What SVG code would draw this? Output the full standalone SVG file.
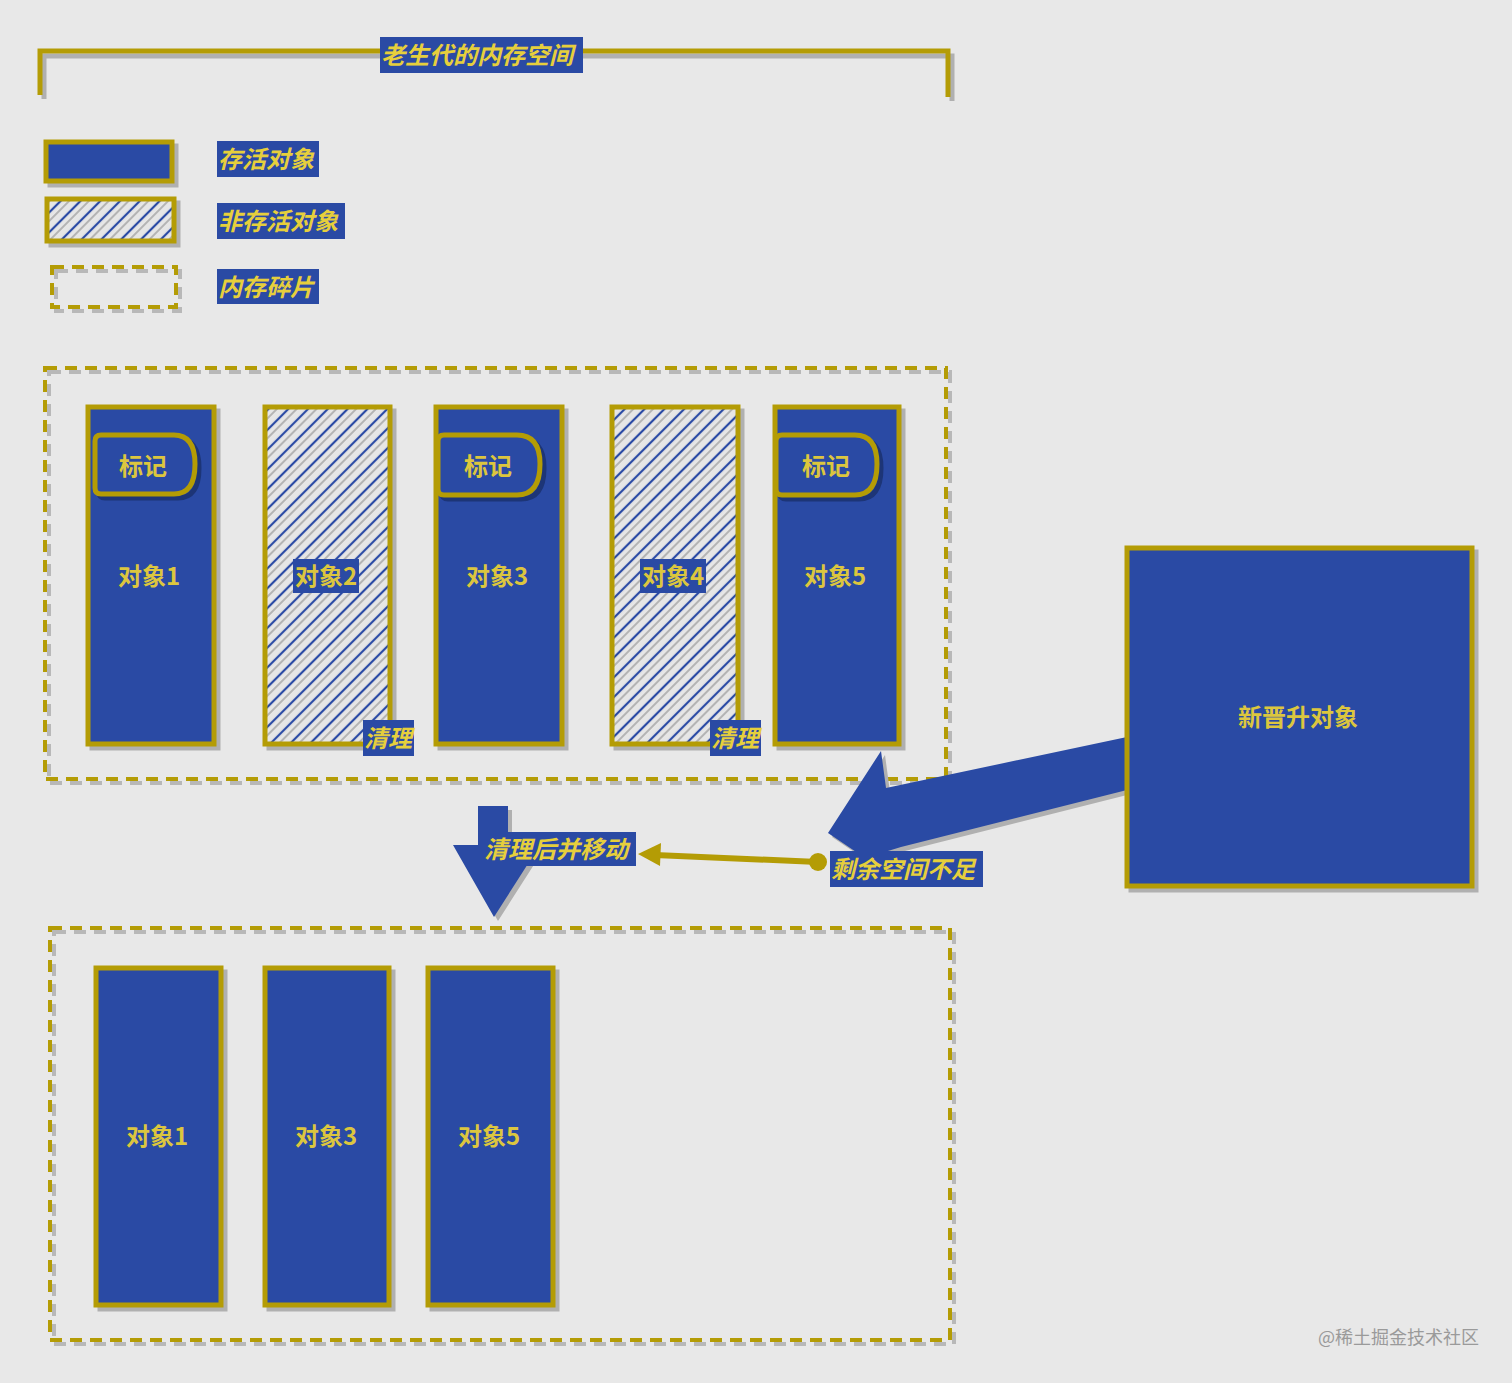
<svg xmlns="http://www.w3.org/2000/svg" width="1512" height="1383" viewBox="0 0 1512 1383">
<defs>
<style>
.bg{fill:#e8e8e8}
.obj{fill:#2a4aa4;stroke:#b49c05;stroke-width:5}
.sh{fill:none;stroke:#b0b0b0;stroke-width:5}
.shf{fill:#b0b0b0}
.hatch{fill:url(#hp);stroke:#b49c05;stroke-width:5}
.dash{fill:none;stroke:#b49c05;stroke-width:4;stroke-dasharray:12 8}
.dashsh{fill:none;stroke:#b8b8b8;stroke-width:4;stroke-dasharray:12 8}
.lblbg{fill:#2a4aa4}
.lbl{font-family:"Noto Sans CJK SC","Noto Sans",sans-serif;font-weight:bold;font-style:italic;font-size:24px;fill:#e6cf3c}
.t{font-family:"Noto Sans CJK SC","Noto Sans",sans-serif;font-weight:bold;font-size:24px;fill:#dcc63e;text-anchor:middle}
.tag{fill:#2a4aa4;stroke:#b49c05;stroke-width:5}
.tagsh{fill:none;stroke:#1d3577;stroke-width:5}
.wm{font-family:"Noto Sans CJK SC",sans-serif;font-size:18px;fill:#9a9a9a}
</style>
<pattern id="hp" patternUnits="userSpaceOnUse" width="14" height="14" patternTransform="rotate(45)">
<rect width="14" height="14" fill="#e6e6e6"/>
<line x1="3" y1="0" x2="3" y2="14" stroke="#2a4aa4" stroke-width="2.2"/>
<line x1="9" y1="0" x2="9" y2="14" stroke="#b4b4b4" stroke-width="2"/>
</pattern>
</defs>
<rect class="bg" x="0" y="0" width="1512" height="1383"/>

<g id="old-gen-bracket">
<path class="sh" d="M44 99 V56 H952 V101"/>
<path d="M40 95 V51 H948 V97" fill="none" stroke="#b49c05" stroke-width="5"/>
<rect class="lblbg" x="380" y="37" width="203" height="36"/>
<text class="lbl" x="381" y="64">老生代的内存空间</text>
</g>

<g id="legend-live">
<rect class="sh" x="50" y="146" width="126" height="39"/>
<rect class="obj" x="46" y="142" width="126" height="39"/>
<rect class="lblbg" x="217" y="141" width="102" height="36"/>
<text class="lbl" x="218" y="168">存活对象</text>
</g>
<g id="legend-dead">
<rect class="sh" x="51" y="203" width="127" height="42"/>
<rect class="hatch" x="47" y="199" width="127" height="42"/>
<rect class="lblbg" x="217" y="203" width="128" height="36"/>
<text class="lbl" x="218" y="230">非存活对象</text>
</g>
<g id="legend-frag">
<rect class="dashsh" x="56" y="271" width="124" height="40"/>
<rect class="dash" x="52" y="267" width="124" height="40"/>
<rect class="lblbg" x="217" y="269" width="102" height="35"/>
<text class="lbl" x="218" y="296">内存碎片</text>
</g>

<g id="upper-region">
<rect class="dashsh" x="49" y="372" width="901" height="411"/>
<rect class="dash" x="45" y="368" width="901" height="411"/>
</g>
<g id="lower-region">
<rect class="dashsh" x="54" y="932" width="900" height="412"/>
<rect class="dash" x="50" y="928" width="900" height="412"/>
</g>

<g id="connectors">
<polygon class="shf" points="1131,741 890,792 885,755 832,837 869,862 905,851 1131,794"/>
<polygon fill="#2a4aa4" points="1127,737 886,788 881,751 828,833 865,858 901,847 1127,790"/>
<polygon class="shf" points="482,810 512,810 512,849 544,849 498,921 457,849 482,849"/>
<polygon fill="#2a4aa4" points="478,806 508,806 508,845 540,845 494,917 453,845 478,845"/>
<line x1="818" y1="862" x2="655" y2="855" stroke="#b49c05" stroke-width="6"/>
<polygon fill="#b49c05" points="638,854 661,843 660,866"/>
<circle cx="818" cy="862" r="9" fill="#b49c05"/>
</g>

<g id="obj1-upper">
<rect class="sh" x="92" y="411" width="126" height="337"/>
<rect class="obj" x="88" y="407" width="126" height="337"/>
<path class="tagsh" d="M105 439 H178 Q199 439 199 468 Q199 498 178 498 H105 Q99 498 99 492 V445 Q99 439 105 439 Z"/>
<path class="tag" d="M101 435 H174 Q195 435 195 464 Q195 494 174 494 H101 Q95 494 95 488 V441 Q95 435 101 435 Z"/>
<text class="t" x="143" y="475">标记</text>
<text class="t" x="149" y="585">对象1</text>
</g>
<g id="obj2-upper">
<rect class="sh" x="269" y="411" width="125" height="337"/>
<rect class="hatch" x="265" y="407" width="125" height="337"/>
<rect class="lblbg" x="293" y="559" width="66" height="34"/>
<text class="t" x="326" y="585">对象2</text>
<rect class="lblbg" x="363" y="720" width="51" height="36"/>
<text class="lbl" x="364" y="747">清理</text>
</g>
<g id="obj3-upper">
<rect class="sh" x="440" y="411" width="126" height="337"/>
<rect class="obj" x="436" y="407" width="126" height="337"/>
<path class="tagsh" d="M448 439 H521 Q544 439 544 468 Q544 499 521 499 H448 Q442 499 442 493 V445 Q442 439 448 439 Z"/>
<path class="tag" d="M444 435 H517 Q540 435 540 464 Q540 495 517 495 H444 Q438 495 438 489 V441 Q438 435 444 435 Z"/>
<text class="t" x="488" y="475">标记</text>
<text class="t" x="497" y="585">对象3</text>
</g>
<g id="obj4-upper">
<rect class="sh" x="616" y="411" width="126" height="337"/>
<rect class="hatch" x="612" y="407" width="126" height="337"/>
<rect class="lblbg" x="640" y="559" width="66" height="34"/>
<text class="t" x="673" y="585">对象4</text>
<rect class="lblbg" x="710" y="720" width="51" height="36"/>
<text class="lbl" x="711" y="747">清理</text>
</g>
<g id="obj5-upper">
<rect class="sh" x="779" y="411" width="124" height="337"/>
<rect class="obj" x="775" y="407" width="124" height="337"/>
<path class="tagsh" d="M786 439 H859 Q881 439 881 468 Q881 499 859 499 H786 Q780 499 780 493 V445 Q780 439 786 439 Z"/>
<path class="tag" d="M782 435 H855 Q877 435 877 464 Q877 495 855 495 H782 Q776 495 776 489 V441 Q776 435 782 435 Z"/>
<text class="t" x="826" y="475">标记</text>
<text class="t" x="835" y="585">对象5</text>
</g>

<g id="new-promoted">
<rect class="sh" x="1131" y="552" width="345" height="338"/>
<rect class="obj" x="1127" y="548" width="345" height="338"/>
<text class="t" x="1298" y="726">新晋升对象</text>
</g>

<g id="label-move">
<rect class="lblbg" x="483" y="832" width="153" height="34"/>
<text class="lbl" x="484" y="858">清理后并移动</text>
</g>
<g id="label-insufficient">
<rect class="lblbg" x="830" y="851" width="153" height="36"/>
<text class="lbl" x="831" y="878">剩余空间不足</text>
</g>

<g id="obj1-lower">
<rect class="sh" x="100" y="972" width="125" height="337"/>
<rect class="obj" x="96" y="968" width="125" height="337"/>
<text class="t" x="157" y="1145">对象1</text>
</g>
<g id="obj3-lower">
<rect class="sh" x="269" y="972" width="124" height="337"/>
<rect class="obj" x="265" y="968" width="124" height="337"/>
<text class="t" x="326" y="1145">对象3</text>
</g>
<g id="obj5-lower">
<rect class="sh" x="432" y="972" width="125" height="337"/>
<rect class="obj" x="428" y="968" width="125" height="337"/>
<text class="t" x="489" y="1145">对象5</text>
</g>

<text class="wm" x="1318" y="1344">@稀土掘金技术社区</text>
</svg>
